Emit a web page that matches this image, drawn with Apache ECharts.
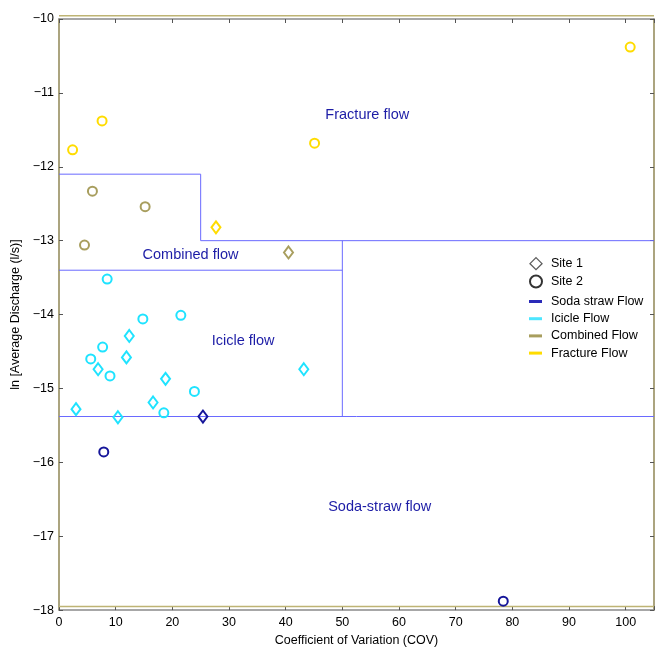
<!DOCTYPE html>
<html>
<head>
<meta charset="utf-8">
<script src="https://cdn.jsdelivr.net/npm/echarts@6/dist/echarts.min.js"></script>
<style>html,body{margin:0;padding:0;background:#fff;}#c{width:657px;height:652px;}</style>
</head>
<body>
<div id="c"></div>
<script>
// ---- data ----
const fractureSite1 = [[27.7, -12.82]];
const fractureSite2 = [[2.4, -11.77], [7.6, -11.38], [45.1, -11.68], [100.8, -10.38]];
const combinedSite1 = [[40.5, -13.16]];
const combinedSite2 = [[5.9, -12.33], [15.2, -12.54], [4.5, -13.06]];
const icicleSite1 = [[12.4, -14.29], [11.9, -14.58], [6.9, -14.74], [18.8, -14.87], [43.2, -14.74], [3.0, -15.28], [16.6, -15.19], [10.4, -15.39]];
const icicleSite2 = [[8.5, -13.52], [14.8, -14.06], [21.5, -14.01], [7.7, -14.44], [5.6, -14.60], [9.0, -14.83], [23.9, -15.04], [18.5, -15.33]];
const sodaSite1 = [[25.4, -15.38]];
const sodaSite2 = [[7.9, -15.86], [78.4, -17.88]];

// regime boundary lines
const boundaryFracture = [[0, -12.1], [25, -12.1], [25, -13.0], [105, -13.0]];
const boundaryCombined = [[0, -13.4], [50, -13.4]];
const boundaryIcicleRight = [[50, -13.0], [50, -15.38]];
const boundarySoda = [[0, -15.38], [105, -15.38]];

// frame lines drawn in the reference just inside/outside the box
const frameTop = [[0, -9.955], [105, -9.955]];
const frameBottom = [[0, -17.952], [105, -17.952]];

// region labels
const regionLabels = [
  { name: 'Fracture flow', value: [54.4, -11.30] },
  { name: 'Combined flow', value: [23.2, -13.20] },
  { name: 'Icicle flow', value: [32.5, -14.36] },
  { name: 'Soda-straw flow', value: [56.6, -16.60] }
];

const xTicks = [0, 10, 20, 30, 40, 50, 60, 70, 80, 90, 100];
const yTicks = [-10, -11, -12, -13, -14, -15, -16, -17, -18];

const colors = {
  soda: '#16169a',
  icicle: '#1fe3ff',
  combined: '#a89e5e',
  fracture: '#ffdc00',
  boundary: '#6a6aff',
  regionText: '#1c1ca6',
  frame: '#beb474'
};
const FONT = 'Liberation Sans, Arial, Helvetica, sans-serif';

function scatter(name, data, color, symbol) {
  return {
    name: name, type: 'scatter', data: data,
    symbol: symbol,
    symbolSize: symbol === 'diamond' ? [9, 12] : 9,
    itemStyle: { color: 'rgba(255,255,255,0)', borderColor: color, borderWidth: 2, opacity: 1 },
    silent: true, z: 5
  };
}
function boundary(data) {
  return {
    type: 'line', data: data, symbol: 'none', silent: true,
    lineStyle: { color: colors.boundary, width: 1 }, z: 3
  };
}
function frame(data) {
  return {
    type: 'line', data: data, symbol: 'none', silent: true, clip: false,
    lineStyle: { color: colors.frame, width: 1.5 }, z: 2
  };
}

const chart = echarts.init(document.getElementById('c'), null, { renderer: 'canvas' });
const minusFmt = v => (v < 0 ? '\u2212' + Math.abs(v) : String(v));

const tickStyle = { show: true, inside: true, length: 4, lineStyle: { color: '#555' } };

chart.setOption({
  animation: false,
  backgroundColor: '#fff',
  textStyle: { fontFamily: FONT },
  grid: { left: 59, right: 1, top: 19, bottom: 36, containLabel: false },
  xAxis: [{
    type: 'value', min: 0, max: 105, interval: 10, position: 'bottom',
    name: 'Coefficient of Variation (COV)', nameLocation: 'middle', nameGap: 23,
    nameTextStyle: { fontFamily: FONT, fontSize: 12.5, color: '#000' },
    axisLine: { show: true, onZero: false, lineStyle: { color: '#8a8a8a', width: 1.5 } },
    axisTick: tickStyle,
    axisLabel: { margin: 6, fontFamily: FONT, fontSize: 12.5, color: '#000',
      formatter: v => (xTicks.indexOf(v) >= 0 ? String(v) : '') },
    splitLine: { show: false }
  }, {
    type: 'value', min: 0, max: 105, interval: 10, position: 'top',
    axisLine: { show: true, onZero: false, lineStyle: { color: '#8a8a8a', width: 1.5 } },
    axisTick: tickStyle,
    axisLabel: { show: false }, splitLine: { show: false }
  }],
  yAxis: [{
    type: 'value', min: -18, max: -10, interval: 1, position: 'left',
    name: 'ln [Average Discharge (l/s)]', nameLocation: 'middle', nameGap: 34, nameRotate: 90,
    nameTextStyle: { fontFamily: FONT, fontSize: 12.5, color: '#000' },
    axisLine: { show: true, onZero: false, lineStyle: { color: '#8f8654', width: 1.5 } },
    axisTick: tickStyle,
    axisLabel: { margin: 5, fontFamily: FONT, fontSize: 12.5, color: '#000',
      formatter: v => (yTicks.indexOf(v) >= 0 ? minusFmt(v) : '') },
    splitLine: { show: false }
  }, {
    type: 'value', min: -18, max: -10, interval: 1, position: 'right',
    axisLine: { show: true, onZero: false, lineStyle: { color: '#8f8654', width: 1.5 } },
    axisTick: tickStyle,
    axisLabel: { show: false }, splitLine: { show: false }
  }],
  legend: [{
    orient: 'vertical', left: 529, top: 257, padding: 0, itemWidth: 12, itemHeight: 12, itemGap: 4.2,
    textStyle: { fontFamily: FONT, fontSize: 12.5, color: '#000', padding: [0, 0, 0, 4] },
    data: [
      { name: 'Site 1', icon: 'diamond', itemStyle: { color: '#fff', borderColor: '#333', borderWidth: 1.3 } },
      { name: 'Site 2', icon: 'circle', itemStyle: { color: '#fff', borderColor: '#000', borderWidth: 2 } }
    ]
  }, {
    orient: 'vertical', left: 529, top: 295, padding: 0, itemWidth: 13, itemHeight: 3, itemGap: 4.2,
    textStyle: { fontFamily: FONT, fontSize: 12.5, color: '#000', padding: [0, 0, 0, 4] },
    data: [
      { name: 'Soda straw Flow', icon: 'rect' },
      { name: 'Icicle Flow', icon: 'rect' },
      { name: 'Combined Flow', icon: 'rect' },
      { name: 'Fracture Flow', icon: 'rect' }
    ]
  }],
  series: [
    // legend-only entries
    { name: 'Site 1', type: 'scatter', data: [], symbol: 'diamond', itemStyle: { color: '#fff', borderColor: '#333', borderWidth: 1.3 } },
    { name: 'Site 2', type: 'scatter', data: [], symbol: 'circle', itemStyle: { color: '#fff', borderColor: '#000', borderWidth: 2 } },
    { name: 'Soda straw Flow', type: 'line', data: [], color: '#2a2ab8', lineStyle: { color: '#2a2ab8' } },
    { name: 'Icicle Flow', type: 'line', data: [], color: '#4de6ff', lineStyle: { color: '#4de6ff' } },
    { name: 'Combined Flow', type: 'line', data: [], color: colors.combined, lineStyle: { color: colors.combined } },
    { name: 'Fracture Flow', type: 'line', data: [], color: '#ffdc00', lineStyle: { color: '#ffdc00' } },
    // frame lines
    frame(frameTop),
    frame(frameBottom),
    // boundaries
    boundary(boundaryFracture),
    boundary(boundaryCombined),
    boundary(boundaryIcicleRight),
    boundary(boundarySoda),
    // data points
    scatter('fracture1', fractureSite1, colors.fracture, 'diamond'),
    scatter('fracture2', fractureSite2, colors.fracture, 'circle'),
    scatter('combined1', combinedSite1, colors.combined, 'diamond'),
    scatter('combined2', combinedSite2, colors.combined, 'circle'),
    scatter('icicle1', icicleSite1, colors.icicle, 'diamond'),
    scatter('icicle2', icicleSite2, colors.icicle, 'circle'),
    scatter('soda1', sodaSite1, colors.soda, 'diamond'),
    scatter('soda2', sodaSite2, colors.soda, 'circle'),
    // region labels
    {
      type: 'scatter', data: regionLabels, symbolSize: 0, silent: true, z: 4,
      itemStyle: { opacity: 1 },
      label: { show: true, position: 'inside', formatter: p => p.name, opacity: 1,
        fontFamily: FONT, fontSize: 14.5, color: colors.regionText }
    }
  ]
});
</script>
</body>
</html>
